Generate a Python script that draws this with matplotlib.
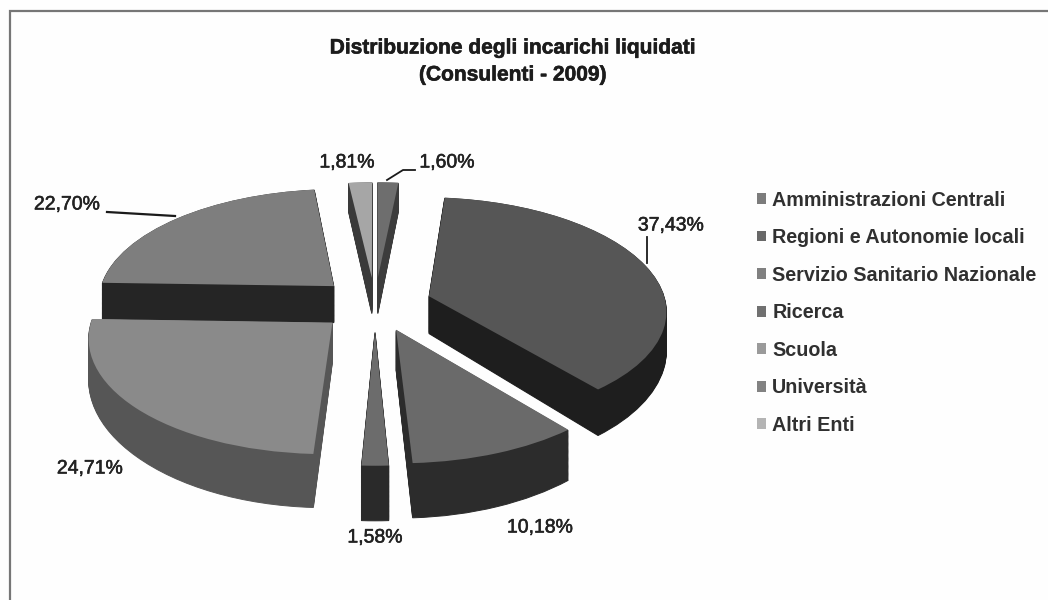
import matplotlib
matplotlib.use("Agg")
import matplotlib.pyplot as plt
import matplotlib.patheffects as pe
import numpy as np
from matplotlib.lines import Line2D
from matplotlib.patches import Patch
from matplotlib.transforms import Transform

categories = ["Amministrazioni Centrali", "Regioni e Autonomie locali",
              "Servizio Sanitario Nazionale", "Ricerca", "Scuola", "Università", "Altri Enti"]
values = [1.60, 37.43, 10.18, 1.58, 24.71, 22.70, 1.81]
value_labels = ["1,60%", "37,43%", "10,18%", "1,58%", "24,71%", "22,70%", "1,81%"]
top_colors = ["#6e6e6e", "#565656", "#6a6a6a", "#6c6c6c", "#8a8a8a", "#7e7e7e", "#a6a6a6"]
side_colors = ["#3c3c3c", "#1e1e1e", "#2c2c2c", "#2a2a2a", "#565656", "#252525", "#3a3a3a"]
legend_colors = ["#7c7c7c", "#686868", "#808080", "#707070", "#9a9a9a", "#828282", "#b4b4b4"]

CX, CY, RX, RY, DEPTH, PERSP, PERSP_Z = 375, 304, 237, 112, 38, 0.114, 0.25
EXPLODE = 0.24
LAYERS = 44


class Perspective(Transform):
    input_dims = output_dims = 2
    is_separable = False
    has_inverse = False

    def __init__(self, z):
        super().__init__()
        self.z = z

    def transform_non_affine(self, values):
        v = np.asarray(values, float)
        w = 1 + PERSP * v[:, 1]
        return np.column_stack((CX + RX * v[:, 0] / w,
                                CY - RY * v[:, 1] / w + DEPTH * self.z / (1 + PERSP_Z * v[:, 1])))


fig = plt.figure(figsize=(10.48, 6.0), dpi=100, facecolor="#fefefe")
ax = fig.add_axes([0, 0, 1, 1])


def pie_layer(z, colors):
    wedges, _ = ax.pie(values, startangle=90, counterclock=False, colors=colors,
                       explode=[EXPLODE] * len(values), radius=1,
                       wedgeprops=dict(linewidth=0.7 if z > 0 else 0, edgecolor="none"))
    tr = Perspective(z) + ax.transData
    for wedge, c in zip(wedges, colors):
        wedge.set_transform(tr)
        if z > 0:
            wedge.set_edgecolor(c)


for z in np.linspace(1, 0.02, LAYERS):
    pie_layer(z, side_colors)
pie_layer(0, top_colors)

ax.set_aspect("auto")
ax.set_xlim(0, 1048)
ax.set_ylim(600, 0)
ax.axis("off")

FONT = "Liberation Sans"
frame = "#767676"
ax.add_line(Line2D([10, 10, 1048], [600, 11, 11], color=frame, lw=1.6, solid_joinstyle="miter"))

title_fx = [pe.withStroke(linewidth=0.4, foreground="#1c1c1c")]
ax.text(513, 48, "Distribuzione degli incarichi liquidati", family=FONT, weight="bold",
        fontsize=15.1, ha="center", va="center", color="#1c1c1c", path_effects=title_fx)
ax.text(513, 75, "(Consulenti - 2009)", family=FONT, weight="bold",
        fontsize=15.1, ha="center", va="center", color="#1c1c1c", path_effects=title_fx)

label_pos = [(447, 163), (671, 226), (540, 528), (375, 538), (90, 469), (67, 205), (347, 163)]
for text, (x, y) in zip(value_labels, label_pos):
    ax.text(x, y, text, family=FONT, fontsize=14, ha="center", va="center", color="#222222",
            path_effects=[pe.withStroke(linewidth=0.4, foreground="#222222")])

leader = "#1a1a1a"
ax.add_line(Line2D([387, 403, 415], [180, 170, 170], color=leader, lw=1.3))
ax.add_line(Line2D([647, 647], [237, 263], color=leader, lw=1.3))
ax.add_line(Line2D([107, 175], [212, 216], color=leader, lw=1.6))

handles = [Patch(facecolor=c, edgecolor="none") for c in legend_colors]
fig.legend(handles, categories, loc="upper left", bbox_to_anchor=(757 / 1048, 1 - 190.5 / 600),
           frameon=False, borderpad=0, borderaxespad=0, handlelength=0.47, handleheight=0.47,
           handletextpad=0.3, labelspacing=0.94, prop=dict(family=FONT, weight="bold", size=14.2),
           labelcolor="#303030")

fig.savefig("out.png", dpi=100, facecolor=fig.get_facecolor())
